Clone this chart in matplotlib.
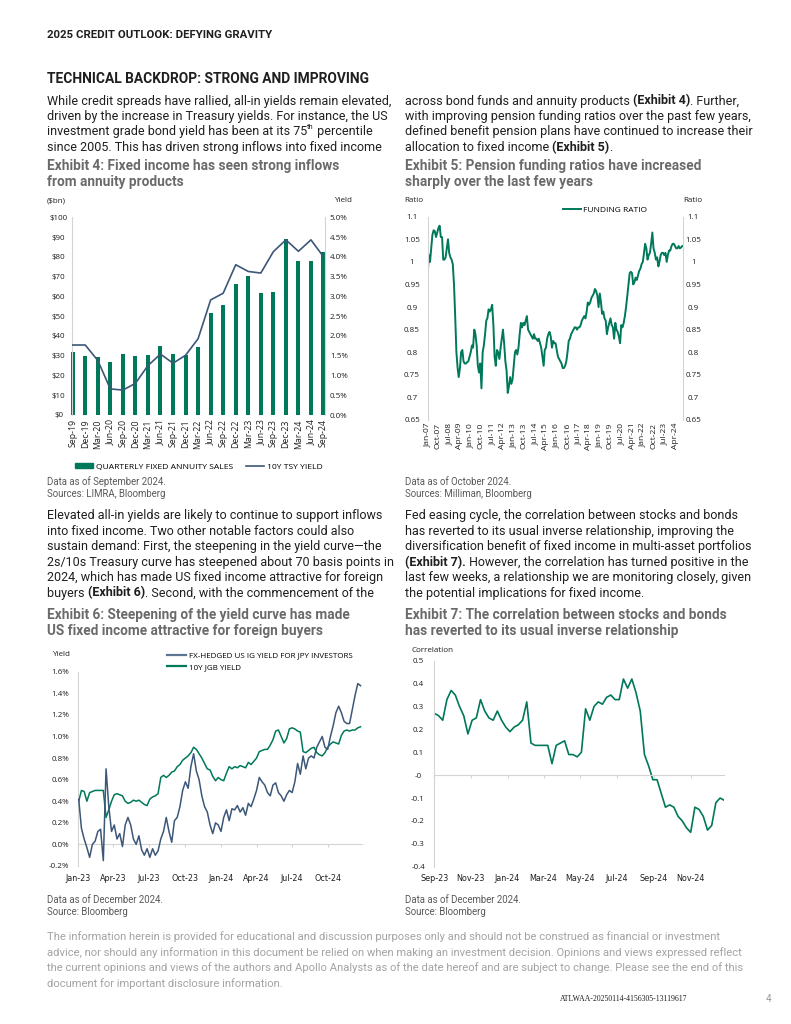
import matplotlib
matplotlib.use('Agg')
import matplotlib.pyplot as plt
from matplotlib.patches import Patch
from matplotlib.lines import Line2D
import numpy as np
import pandas as pd

W, H = 791, 1024
GREEN = '#00785a'
NAVY = '#3c5778'
NAVY_LEG = '#5d7492'
TXT = '#1f1f1f'
TITLE_GRAY = '#6a6a6a'
NOTE_GRAY = '#5a5a5a'
AX_GRAY = '#d4d4d4'

# no narrow sans installed, so Roboto at slightly reduced sizes
NARROW = 'Roboto'
CHART = ['Open Sans', 'DejaVu Sans']

# ---- Exhibit 4: quarterly fixed annuity sales ($bn) and 10y yield (%)
ex4_quarters = ['Sep-19', 'Dec-19', 'Mar-20', 'Jun-20', 'Sep-20', 'Dec-20', 'Mar-21',
                'Jun-21', 'Sep-21', 'Dec-21', 'Mar-22', 'Jun-22', 'Sep-22', 'Dec-22',
                'Mar-23', 'Jun-23', 'Sep-23', 'Dec-23', 'Mar-24', 'Jun-24', 'Sep-24']
ex4_sales = [32.0, 30.0, 29.2, 26.8, 31.0, 30.0, 30.2, 34.7, 31.0, 30.2, 34.6,
             51.4, 55.5, 66.1, 70.3, 61.7, 62.4, 89.0, 78.0, 78.0, 82.5]
ex4_yield = [1.77, 1.77, 1.38, 0.66, 0.63, 0.80, 1.25, 1.54, 1.31, 1.51, 1.93,
             2.91, 3.08, 3.80, 3.63, 3.59, 4.13, 4.43, 4.14, 4.43, 4.00]

# ---- Exhibit 5: pension funding ratio, monthly from Jan-07
ex5_start = '2007-01-01'
ex5_ratio = [
    0.975, 1.015, 1.000, 1.030, 1.060, 1.070, 1.068, 1.055, 1.065, 1.075, 1.080, 1.055,
    1.055, 1.005, 1.005, 1.010, 1.030, 1.050, 1.020, 1.010, 1.005, 0.995, 0.950, 0.880,
    0.800, 0.765, 0.745, 0.765, 0.800, 0.805, 0.780, 0.775, 0.775, 0.778, 0.780, 0.790,
    0.800, 0.815, 0.810, 0.850, 0.840, 0.815, 0.770, 0.755, 0.775, 0.720, 0.800, 0.815,
    0.840, 0.870, 0.875, 0.895, 0.890, 0.895, 0.905, 0.860, 0.790, 0.770, 0.805, 0.800,
    0.785, 0.810, 0.830, 0.850, 0.820, 0.780, 0.760, 0.710, 0.725, 0.745, 0.730, 0.740,
    0.770, 0.800, 0.805, 0.795, 0.810, 0.840, 0.865, 0.855, 0.865, 0.860, 0.870, 0.880,
    0.850, 0.845, 0.840, 0.835, 0.830, 0.840, 0.830, 0.830, 0.825, 0.830, 0.820, 0.810,
    0.790, 0.770, 0.805, 0.810, 0.830, 0.840, 0.845, 0.835, 0.810, 0.825, 0.820, 0.820,
    0.805, 0.790, 0.785, 0.780, 0.775, 0.765, 0.765, 0.770, 0.780, 0.800, 0.825, 0.830,
    0.840, 0.845, 0.850, 0.855, 0.855, 0.850, 0.855, 0.855, 0.860, 0.870, 0.875, 0.880,
    0.875, 0.890, 0.910, 0.905, 0.910, 0.920, 0.925, 0.930, 0.940, 0.935, 0.925, 0.900,
    0.930, 0.910, 0.885, 0.890, 0.875, 0.870, 0.840, 0.855, 0.865, 0.875, 0.860, 0.855,
    0.830, 0.865, 0.850, 0.845, 0.835, 0.820, 0.860, 0.855, 0.865, 0.880, 0.900, 0.925,
    0.950, 0.975, 0.978, 0.975, 0.950, 0.955, 0.965, 0.960, 0.970, 0.980, 0.985, 0.995,
    1.000, 1.020, 1.040, 1.030, 1.005, 1.015, 1.020, 1.040, 1.065, 1.030, 1.020, 1.005,
    1.010, 0.990, 1.000, 1.015, 1.020, 1.020, 1.015, 1.020, 1.000, 1.015, 1.025, 1.025,
    1.035, 1.040, 1.040, 1.035, 1.030, 1.030, 1.035, 1.030, 1.032, 1.035,
]

# ---- Exhibit 6: weekly yields (%), from early Jan-23
ex6_start = '2023-01-02'
ex6_us_ig_jpy = [
    0.42, 0.15, 0.05, -0.03, -0.12, 0.00, 0.03, 0.12, 0.14, -0.15, 0.70, 0.35,
    0.12, 0.18, 0.05, 0.10, -0.02, 0.18, 0.25, 0.18, 0.05, 0.00, 0.08, -0.05,
    -0.10, -0.04, -0.12, -0.04, -0.10, -0.06, 0.05, 0.12, 0.25, 0.12, 0.02, 0.22,
    0.25, 0.35, 0.50, 0.58, 0.52, 0.72, 0.84, 0.68, 0.60, 0.45, 0.35, 0.30,
    0.18, 0.10, 0.20, 0.18, 0.12, 0.25, 0.32, 0.22, 0.33, 0.32, 0.36, 0.30,
    0.34, 0.27, 0.38, 0.35, 0.42, 0.50, 0.62, 0.58, 0.55, 0.48, 0.45, 0.55,
    0.57, 0.48, 0.45, 0.40, 0.46, 0.50, 0.48, 0.58, 0.75, 0.65, 0.82, 0.70,
    0.80, 0.82, 0.80, 0.90, 0.95, 1.00, 0.90, 0.88, 1.00, 1.10, 1.22, 1.28,
    1.22, 1.14, 1.12, 1.12, 1.25, 1.38, 1.49, 1.47,
]
ex6_jgb_10y = [
    0.40, 0.50, 0.49, 0.40, 0.48, 0.49, 0.50, 0.50, 0.50, 0.50, 0.25, 0.32,
    0.40, 0.46, 0.47, 0.46, 0.45, 0.40, 0.38, 0.39, 0.41, 0.40, 0.41, 0.39,
    0.37, 0.36, 0.42, 0.44, 0.45, 0.47, 0.62, 0.64, 0.62, 0.64, 0.67, 0.68,
    0.72, 0.74, 0.78, 0.80, 0.82, 0.85, 0.90, 0.88, 0.84, 0.80, 0.75, 0.70,
    0.69, 0.63, 0.59, 0.62, 0.60, 0.59, 0.66, 0.72, 0.70, 0.72, 0.71, 0.73,
    0.72, 0.71, 0.76, 0.74, 0.77, 0.80, 0.86, 0.87, 0.88, 0.88, 0.92, 0.97,
    1.05, 1.06, 1.00, 0.94, 0.98, 1.07, 1.08, 1.07, 1.05, 1.04, 0.86, 0.85,
    0.87, 0.89, 0.90, 0.85, 0.83, 0.82, 0.85, 0.90, 0.93, 0.95, 0.94, 0.93,
    1.01, 1.05, 1.06, 1.05, 1.06, 1.06, 1.08, 1.09,
]

# ---- Exhibit 7: weekly stock/bond correlation from Sep-23
ex7_start = '2023-09-01'
ex7_corr = [
    0.27, 0.26, 0.24, 0.33, 0.37, 0.35, 0.30, 0.26, 0.18, 0.24, 0.25, 0.33,
    0.28, 0.25, 0.24, 0.28, 0.24, 0.21, 0.19, 0.21, 0.22, 0.24, 0.32, 0.14,
    0.13, 0.13, 0.13, 0.13, 0.05, 0.13, 0.14, 0.15, 0.09, 0.09, 0.08, 0.10,
    0.29, 0.24, 0.30, 0.32, 0.31, 0.34, 0.35, 0.33, 0.33, 0.42, 0.38, 0.42,
    0.36, 0.28, 0.09, 0.04, -0.02, -0.02, -0.08, -0.14, -0.13, -0.14, -0.18, -0.20,
    -0.23, -0.25, -0.14, -0.15, -0.18, -0.24, -0.22, -0.12, -0.10, -0.11,
]

fig = plt.figure(figsize=(W / 100, H / 100), dpi=100)
R = fig.canvas.get_renderer()


def fx(x):
    return x / W


def fy(y):
    return 1 - y / H


def add_ax(l, t, r, b):
    return fig.add_axes([fx(l), fy(b), (r - l) / W, (b - t) / H])


def text(x, y, s, size, weight='normal', color=TXT, family=None, **kw):
    return fig.text(fx(x), fy(y), s, fontsize=size, fontweight=weight, color=color,
                    family=family or NARROW, va='center', **kw)


def width(s, size, weight):
    a = fig.text(0, 0, s + '|', fontsize=size, family=NARROW, fontweight=weight)
    b = fig.text(0, 0, '|', fontsize=size, family=NARROW, fontweight=weight)
    w = a.get_window_extent(R).width - b.get_window_extent(R).width
    a.remove()
    b.remove()
    return w


def rich(x, y, parts, size=9.0, color=TXT):
    for s, style in parts:
        sz = size * 0.6 if style == 'sup' else size
        wt = 'bold' if style == 'b' else 'normal'
        yy = y - 4 if style == 'sup' else y
        text(x, yy, s, sz, wt, color)
        x += width(s, sz, wt)


def paragraph(x, y0, lines, step=15.4):
    for i, parts in enumerate(lines):
        if isinstance(parts, str):
            parts = [(parts, 'n')]
        rich(x, y0 + i * step, parts)


def style_axis(ax, spines=('left',)):
    for k, sp in ax.spines.items():
        sp.set_visible(k in spines)
        sp.set_color(AX_GRAY)
        sp.set_linewidth(0.8)
    for lab in ax.get_xticklabels() + ax.get_yticklabels():
        lab.set_family(CHART)
    ax.tick_params(colors=TXT, labelsize=5.8)


# ---------------- page text ----------------
text(47, 35, '2025 CREDIT OUTLOOK: DEFYING GRAVITY', 8.2, 'bold')
text(47, 79, 'TECHNICAL BACKDROP: STRONG AND IMPROVING', 9.9, 'bold')

paragraph(47, 101, [
    'While credit spreads have rallied, all-in yields remain elevated,',
    'driven by the increase in Treasury yields. For instance, the US',
    [('investment grade bond yield has been at its 75', 'n'), ('th', 'sup'), (' percentile', 'n')],
    'since 2005. This has driven strong inflows into fixed income',
])
paragraph(405, 101, [
    [('across bond funds and annuity products ', 'n'), ('(Exhibit 4)', 'b'), ('. Further,', 'n')],
    'with improving pension funding ratios over the past few years,',
    'defined benefit pension plans have continued to increase their',
    [('allocation to fixed income ', 'n'), ('(Exhibit 5)', 'b'), ('.', 'n')],
])
paragraph(47, 516, [
    'Elevated all-in yields are likely to continue to support inflows',
    'into fixed income. Two other notable factors could also',
    'sustain demand: First, the steepening in the yield curve\u2014the',
    '2s/10s Treasury curve has steepened about 70 basis points in',
    '2024, which has made US fixed income attractive for foreign',
    [('buyers ', 'n'), ('(Exhibit 6)', 'b'), ('. Second, with the commencement of the', 'n')],
])
paragraph(405, 516, [
    'Fed easing cycle, the correlation between stocks and bonds',
    'has reverted to its usual inverse relationship, improving the',
    'diversification benefit of fixed income in multi-asset portfolios',
    [('(Exhibit 7).', 'b'), (' However, the correlation has turned positive in the', 'n')],
    'last few weeks, a relationship we are monitoring closely, given',
    'the potential implications for fixed income.',
])

for x, y, lines in [
    (47, 166, ['Exhibit 4: Fixed income has seen strong inflows', 'from annuity products']),
    (405, 166, ['Exhibit 5: Pension funding ratios have increased', 'sharply over the last few years']),
    (47, 615, ['Exhibit 6: Steepening of the yield curve has made', 'US fixed income attractive for foreign buyers']),
    (405, 615, ['Exhibit 7: The correlation between stocks and bonds', 'has reverted to its usual inverse relationship']),
]:
    for i, s in enumerate(lines):
        text(x, y + i * 16, s, 9.8, 'bold', TITLE_GRAY)

for x, y, lines in [
    (47, 482, ['Data as of September 2024.', 'Sources: LIMRA, Bloomberg']),
    (405, 482, ['Data as of October 2024.', 'Sources: Milliman, Bloomberg']),
    (47, 900, ['Data as of December 2024.', 'Source: Bloomberg']),
    (405, 900, ['Data as of December 2024.', 'Source: Bloomberg']),
]:
    for i, s in enumerate(lines):
        text(x, y + i * 12, s, 6.9, 'normal', NOTE_GRAY)

disclaimer = [
    'The information herein is provided for educational and discussion purposes only and should not be construed as financial or investment',
    'advice, nor should any information in this document be relied on when making an investment decision. Opinions and views expressed reflect',
    'the current opinions and views of the authors and Apollo Analysts as of the date hereof and are subject to change. Please see the end of this',
    'document for important disclosure information.',
]
for i, s in enumerate(disclaimer):
    text(47, 937 + i * 15.5, s, 8.1, 'normal', '#a3a3a3')
text(560, 999, 'ATLWAA-20250114-4156305-13119617', 5.6, 'normal', TXT, family='Liberation Serif')
text(766, 999, '4', 7, 'normal', '#999999')

# ---------------- Exhibit 4 ----------------
ax4 = add_ax(71.7, 217.3, 325, 415)
xq = np.arange(len(ex4_quarters))
ax4.bar(xq, ex4_sales, width=0.32, color=GREEN, clip_on=False, zorder=2)
ax4.set_xlim(-0.08, len(xq) - 1 + 0.12)
ax4.set_ylim(0, 100)
ax4.set_yticks(np.arange(0, 101, 10))
ax4.set_yticklabels([f'${v}' for v in range(0, 101, 10)])
ax4.set_xticks(xq)
ax4.set_xticklabels(ex4_quarters, rotation=90)
ax4b = ax4.twinx()
ax4b.plot(xq, ex4_yield, color=NAVY, lw=1.2, zorder=3)
ax4b.set_ylim(0, 5)
ax4b.set_yticks(np.arange(0, 5.01, 0.5))
ax4b.set_yticklabels([f'{v:.1f}%' for v in np.arange(0, 5.01, 0.5)])
style_axis(ax4, ('left',))
style_axis(ax4b, ('right',))
ax4.tick_params(axis='y', length=0, pad=9.5)
for lab in ax4.get_yticklabels():
    lab.set_horizontalalignment('center')
ax4.tick_params(axis='x', length=0, pad=3, labelsize=6.3)
ax4b.tick_params(axis='y', length=0, pad=3.5)
text(47, 201, '($bn)', 5.8, family=CHART)
text(334, 201, 'Yield', 5.8, family=CHART)
ax4.legend([Patch(color=GREEN), Line2D([], [], color=NAVY, lw=1.2)],
           ['QUARTERLY FIXED ANNUITY SALES', '10Y TSY YIELD'],
           loc='center', bbox_to_anchor=(fx(199), fy(467)), bbox_transform=fig.transFigure,
           ncol=2, frameon=False, handlelength=2.1, handleheight=0.5, columnspacing=1.6,
           handletextpad=0.35, prop={'family': CHART, 'size': 6.1})

# ---------------- Exhibit 5 ----------------
ax5 = add_ax(427.7, 216.7, 682.7, 420)
d5 = pd.date_range(ex5_start, periods=len(ex5_ratio), freq='MS')
ax5.plot(d5, ex5_ratio, color=GREEN, lw=1.4, label='FUNDING RATIO')
ax5.set_xlim(d5[0], d5[-1] + pd.Timedelta(days=12))
ax5.set_ylim(0.65, 1.1)
yt5 = np.round(np.arange(0.65, 1.101, 0.05), 2)
ax5.set_yticks(yt5)
ax5.set_yticklabels([f'{v:g}' for v in yt5])
ticks5 = pd.date_range('2007-01-01', '2024-04-01', freq='9MS')
ax5.set_xticks(ticks5)
ax5.set_xticklabels([t.strftime('%b-%y') for t in ticks5], rotation=90)
ax5r = ax5.twinx()
ax5r.set_ylim(0.65, 1.1)
ax5r.set_yticks(yt5)
ax5r.set_yticklabels([f'{v:g}' for v in yt5])
style_axis(ax5, ('left',))
style_axis(ax5r, ('right',))
ax5.tick_params(axis='y', length=0, pad=11.3)
ax5r.tick_params(axis='y', length=0, pad=7.6)
for lab in ax5.get_yticklabels() + ax5r.get_yticklabels():
    lab.set_horizontalalignment('center')
ax5.tick_params(axis='x', length=0, pad=2, labelsize=6.1)
text(404, 201, 'Ratio', 5.8, family=CHART)
text(683, 201, 'Ratio', 5.8, family=CHART)
ax5.legend(loc='center left', bbox_to_anchor=(fx(555), fy(210)), bbox_transform=fig.transFigure,
           frameon=False, handlelength=2.2, handletextpad=0.3, prop={'family': CHART, 'size': 6.0})

# ---------------- Exhibit 6 ----------------
ax6 = add_ax(78.3, 671.7, 361.7, 866)
d6 = pd.date_range(ex6_start, periods=len(ex6_jgb_10y), freq='7D')
ax6.plot(d6, ex6_us_ig_jpy, color=NAVY, lw=1.1, zorder=3)
ax6.plot(d6, ex6_jgb_10y, color=GREEN, lw=1.1, zorder=2)
ax6.set_xlim(pd.Timestamp('2023-01-01'), d6[-1] + pd.Timedelta(days=3))
ax6.set_ylim(-0.2, 1.6)
yt6 = np.round(np.arange(-0.2, 1.601, 0.2), 1)
ax6.set_yticks(yt6)
ax6.set_yticklabels([f'{v:.1f}%' for v in yt6])
ticks6 = pd.date_range('2023-01-01', '2024-10-01', freq='3MS')
ax6.set_xticks(ticks6)
ax6.set_xticklabels([t.strftime('%b-%y') for t in ticks6])
style_axis(ax6, ('left', 'bottom'))
ax6.spines['bottom'].set_position(('data', 0))
ax6.tick_params(axis='x', length=2.5, width=0.8, color=AX_GRAY, pad=18.5)
ax6.tick_params(axis='y', length=0, pad=6.5)
text(52, 655, 'Yield', 5.8, family=CHART)
ax6.legend([Line2D([], [], color=NAVY_LEG, lw=1.6), Line2D([], [], color=GREEN, lw=1.6)],
           ['FX-HEDGED US IG YIELD FOR JPY INVESTORS', '10Y JGB YIELD'],
           loc='upper left', bbox_to_anchor=(fx(163), fy(648)), bbox_transform=fig.transFigure,
           frameon=False, handlelength=2.4, handletextpad=0.35, labelspacing=0.45,
           borderpad=0, prop={'family': CHART, 'size': 5.8})

# ---------------- Exhibit 7 ----------------
ax7 = add_ax(434.3, 660.7, 724.3, 866.7)
d7 = pd.date_range(ex7_start, periods=len(ex7_corr), freq='7D')
ax7.plot(d7, ex7_corr, color=GREEN, lw=1.2)
ax7.set_xlim(pd.Timestamp(ex7_start), d7[-1])
ax7.set_ylim(-0.4, 0.5)
yt7 = np.round(np.arange(-0.4, 0.501, 0.1), 1)
ax7.set_yticks(yt7)
ax7.set_yticklabels([f'{v:g}' for v in yt7])
ticks7 = pd.date_range('2023-09-01', '2024-11-01', freq='2MS')
ax7.set_xticks(ticks7)
ax7.set_xticklabels([t.strftime('%b-%y') for t in ticks7])
style_axis(ax7, ('left', 'bottom'))
ax7.spines['bottom'].set_position(('data', 0))
ax7.tick_params(axis='x', length=2.5, width=0.8, color=AX_GRAY, pad=68.5)
ax7.tick_params(axis='y', length=0, pad=11.7)
for lab in ax7.get_yticklabels():
    lab.set_horizontalalignment('center')
text(411, 650, 'Correlation', 5.8, family=CHART)

fig.savefig('out.png', dpi=100)
